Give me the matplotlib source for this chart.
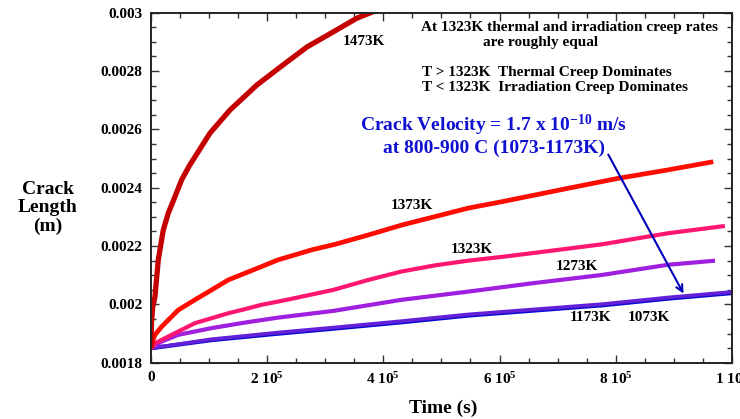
import matplotlib.pyplot as plt
from matplotlib.ticker import MultipleLocator, FixedLocator, FixedFormatter

plt.rcParams['font.family'] = ['Liberation Serif', 'DejaVu Serif']
plt.rcParams['font.weight'] = 'bold'
plt.rcParams['mathtext.default'] = 'regular'

# Crack length (m) vs time (s)
t_1473 = [0, 1e3, 3e3, 6.9e3, 1.26e4, 2.12e4, 2.98e4, 4.13e4, 5.28e4, 6.6e4, 1.016e5,
          1.36e5, 1.824e5, 2.27e5, 2.685e5, 3.13e5, 3.546e5, 3.85e5]
L_1473 = [0.00185, 0.00194, 0.00199, 0.002027, 0.002153, 0.002255, 0.002313, 0.002369,
          0.002427, 0.002475, 0.002587, 0.002666, 0.002752, 0.00282, 0.002882, 0.002933,
          0.002981, 0.003005]

t_1373 = [0, 2e3, 6.9e3, 1.84e4, 4.7e4, 7.57e4, 1.045e5, 1.33e5, 1.618e5, 1.905e5, 2.19e5,
          2.48e5, 2.765e5, 3.167e5, 3.74e5, 4.315e5, 4.89e5, 5.46e5, 6.04e5, 6.61e5,
          7.18e5, 8.04e5, 8.9e5, 9.68e5]
L_1373 = [0.00185, 0.00187, 0.001896, 0.001924, 0.001981, 0.002016, 0.00205, 0.002084,
          0.002107, 0.00213, 0.002153, 0.00217, 0.002187, 0.002206, 0.002238, 0.002272,
          0.002301, 0.00233, 0.002352, 0.002375, 0.002398, 0.002432, 0.002461, 0.002489]

t_1323 = [0, 8e3, 3.56e4, 7.57e4, 1.045e5, 1.33e5, 1.618e5, 1.905e5, 2.19e5, 2.48e5,
          3.14e5, 3.74e5, 4.315e5, 4.89e5, 5.46e5, 6.04e5, 6.61e5, 7.76e5, 8.9e5, 9.88e5]
L_1323 = [0.00185, 0.001868, 0.001896, 0.001936, 0.001953, 0.00197, 0.001984, 0.001999,
          0.00201, 0.002022, 0.00205, 0.002084, 0.002113, 0.002134, 0.00215, 0.002163,
          0.002177, 0.002206, 0.002244, 0.002269]

t_1273 = [0, 1.84e4, 4.7e4, 1.045e5, 1.618e5, 2.19e5, 3.14e5, 4.315e5, 5.46e5, 6.58e5,
          7.76e5, 8.9e5, 9.71e5]
L_1273 = [0.00185, 0.001873, 0.001896, 0.001919, 0.001938, 0.001955, 0.001978, 0.002016,
          0.002044, 0.002073, 0.002101, 0.002136, 0.00215]

t_1173 = [0, 1.045e5, 2.19e5, 3.14e5, 4.315e5, 5.46e5, 6.58e5, 7.76e5, 8.9e5, 1.0e6]
L_1173 = [0.00185, 0.001881, 0.001904, 0.001921, 0.001943, 0.001966, 0.001983, 0.002001,
          0.002024, 0.002043]

t_1073 = [0, 1.045e5, 2.19e5, 3.14e5, 4.315e5, 5.46e5, 6.58e5, 7.76e5, 8.9e5, 1.0e6]
L_1073 = [0.00185, 0.001878, 0.0019, 0.001917, 0.001939, 0.001962, 0.001979, 0.001997,
          0.00202, 0.002039]

x_ticks = [0, 2e5, 4e5, 6e5, 8e5, 1e6]
x_labels = ['0', '2 10$^{5}$', '4 10$^{5}$', '6 10$^{5}$', '8 10$^{5}$', '1 10$^{6}$']
y_ticks = [0.0018, 0.002, 0.0022, 0.0024, 0.0026, 0.0028, 0.003]
y_labels = ['0.0018', '0.002', '0.0022', '0.0024', '0.0026', '0.0028', '0.003']

fig = plt.figure(figsize=(7.4, 4.19), dpi=100)
ax = fig.add_axes([0.204, 0.134, 0.785, 0.836])

ax.plot(t_1073, L_1073, color='#0a0ad0', lw=3.0, solid_capstyle='butt')
ax.plot(t_1173, L_1173, color='#6420d8', lw=2.6, solid_capstyle='butt')
ax.plot(t_1273, L_1273, color='#a020e0', lw=3.0, solid_capstyle='butt')
ax.plot(t_1323, L_1323, color='#ff1670', lw=3.0, solid_capstyle='butt')
ax.plot(t_1373, L_1373, color='#ff0c00', lw=3.4, solid_capstyle='butt')
ax.plot(t_1473, L_1473, color='#c40000', lw=3.8, solid_capstyle='butt')

ax.set_xlim(0, 1e6)
ax.set_ylim(0.0018, 0.003)
ax.xaxis.set_major_locator(FixedLocator(x_ticks))
ax.xaxis.set_major_formatter(FixedFormatter(x_labels))
ax.xaxis.set_minor_locator(MultipleLocator(5e4))
ax.yaxis.set_major_locator(FixedLocator(y_ticks))
ax.yaxis.set_major_formatter(FixedFormatter(y_labels))
ax.yaxis.set_minor_locator(MultipleLocator(5e-5))
ax.tick_params(which='both', direction='in', top=True, right=True, width=1.0,
               labelsize=11, colors='#333333', labelcolor='black')
ax.tick_params(which='major', length=6, pad=6)
ax.tick_params(which='minor', length=3.5)
for s in ax.spines.values():
    s.set_linewidth(1.4)
    s.set_color('#222222')

# curve labels
lab = dict(fontsize=11, fontweight='bold', ha='center', va='center')
ax.text(3.67e5, 0.002902, '1473K', **lab)
ax.text(4.49e5, 0.002338, '1373K', **lab)
ax.text(5.52e5, 0.00219, '1323K', **lab)
ax.text(7.33e5, 0.002129, '1273K', **lab)
ax.text(7.57e5, 0.001954, '1173K', **lab)
ax.text(8.57e5, 0.001954, '1073K', **lab)

ax.text(7.21e5, 0.00295, 'At 1323K thermal and irradiation creep rates', **lab)
ax.text(6.7e5, 0.002896, 'are roughly equal', **lab)
ax.text(4.66e5, 0.002793, 'T > 1323K  Thermal Creep Dominates', fontsize=11,
        fontweight='bold', ha='left', va='center')
ax.text(4.66e5, 0.002742, 'T < 1323K  Irradiation Creep Dominates', fontsize=11,
        fontweight='bold', ha='left', va='center')

ax.text(5.9e5, 0.002612, 'Crack Velocity = 1.7 x 10$^{-10}$ m/s', fontsize=14,
        fontweight='bold', color='#1010d0', ha='center', va='center')
ax.text(5.9e5, 0.002536, 'at 800-900 C (1073-1173K)', fontsize=14,
        fontweight='bold', color='#1010d0', ha='center', va='center')
ax.annotate('', xy=(9.19e5, 0.002029), xytext=(7.85e5, 0.002522),
            arrowprops=dict(arrowstyle='->', color='#0000b8', lw=1.5,
                            mutation_scale=12))

fig.text(48 / 740, 1 - 208 / 419, 'Crack\nLength\n(m)', fontsize=14, fontweight='bold',
         ha='center', va='center', linespacing=1.1)
fig.text(443 / 740, 1 - 408 / 419, 'Time (s)', fontsize=14, fontweight='bold',
         ha='center', va='center')

fig.savefig('out.png', dpi=100)
